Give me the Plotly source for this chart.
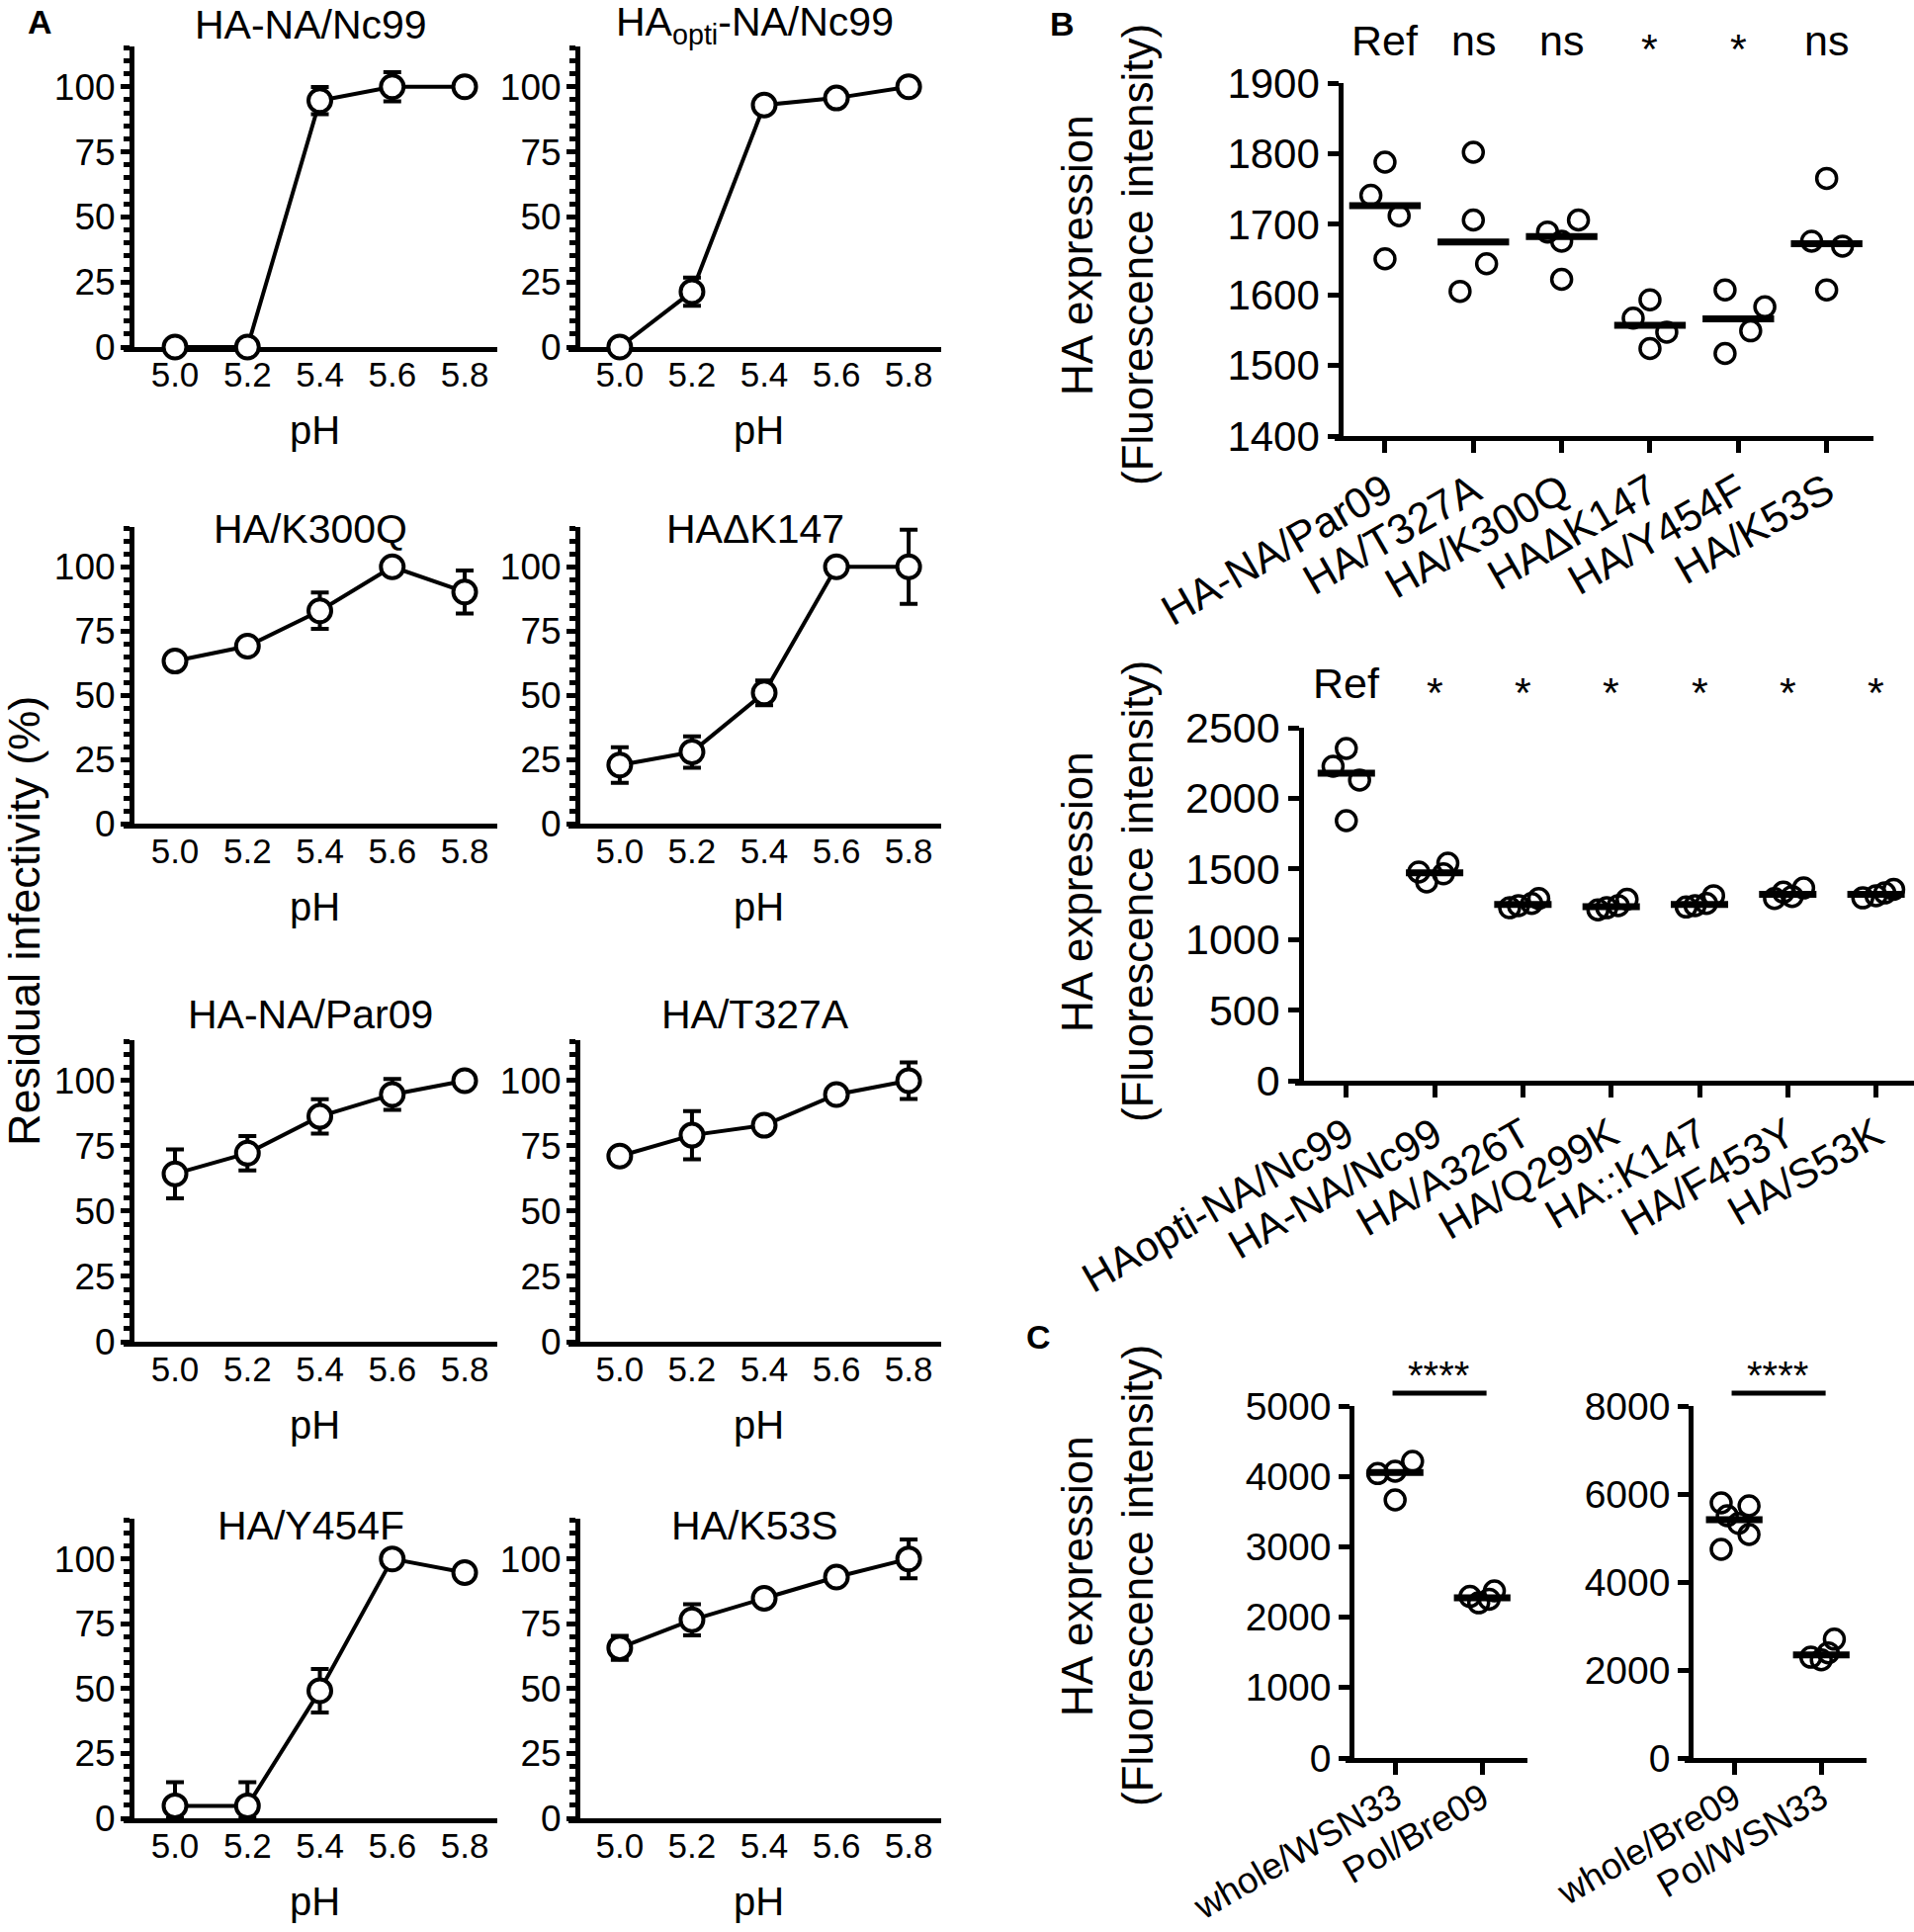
import statistics
import plotly.graph_objects as go

W, H = 1936, 1954
FONT = "Liberation Sans, Arial, sans-serif"

# ---------------- panel A: residual infectivity (%) vs pH ----------------
PH = [5.0, 5.2, 5.4, 5.6, 5.8]
PH_LABELS = ["5.0", "5.2", "5.4", "5.6", "5.8"]

nc99 = [0, 0, 94.7, 100, 100]
nc99_sd = [0, 0, 5.2, 5.6, 0]
opti_nc99 = [0, 21.3, 93.0, 95.7, 100]
opti_nc99_sd = [0, 5.4, 0, 0, 0]
k300q = [63.3, 69.1, 82.9, 100, 90.2]
k300q_sd = [0, 0, 7.1, 0, 8.4]
dk147 = [22.8, 27.9, 50.9, 100, 100]
dk147_sd = [6.9, 6.1, 4.8, 0, 14.4]
par09 = [64.3, 72.2, 86.3, 94.7, 100]
par09_sd = [9.4, 6.6, 6.6, 5.9, 0]
t327a = [71.1, 79.1, 82.9, 94.7, 100]
t327a_sd = [0, 9.2, 0, 0, 7.0]
y454f = [4.8, 4.8, 49.2, 100, 94.7]
y454f_sd = [9.1, 9.1, 8.4, 0, 0]
k53s = [65.7, 76.5, 84.8, 93.0, 100]
k53s_sd = [4.6, 6.0, 0, 0, 7.5]

A_TITLES = ["HA-NA/Nc99", "HA<sub>opti</sub>-NA/Nc99", "HA/K300Q", "HAΔK147",
            "HA-NA/Par09", "HA/T327A", "HA/Y454F", "HA/K53S"]
A_MEANS = [nc99, opti_nc99, k300q, dk147, par09, t327a, y454f, k53s]
A_SDS = [nc99_sd, opti_nc99_sd, k300q_sd, dk147_sd, par09_sd, t327a_sd, y454f_sd, k53s_sd]

# ---------------- panel B: HA expression ----------------
B1_NAMES = ["HA-NA/Par09", "HA/T327A", "HA/K300Q", "HAΔK147", "HA/Y454F", "HA/K53S"]
B1_SIG = ["Ref", "ns", "ns", "*", "*", "ns"]
B1_VALUES = [[1788, 1741, 1712, 1651], [1802, 1706, 1644, 1605],
             [1706, 1689, 1676, 1622], [1593, 1567, 1547, 1524],
             [1607, 1583, 1549, 1517], [1765, 1676, 1669, 1607]]

B2_NAMES = ["HAopti-NA/Nc99", "HA-NA/Nc99", "HA/A326T", "HA/Q299K",
            "HA::K147", "HA/F453Y", "HA/S53K"]
B2_SIG = ["Ref", "*", "*", "*", "*", "*", "*"]
B2_VALUES = [[2353, 2227, 2129, 1842], [1540, 1478, 1465, 1408],
             [1290, 1255, 1240, 1225], [1285, 1240, 1225, 1210],
             [1310, 1255, 1240, 1230], [1365, 1335, 1305, 1290],
             [1355, 1330, 1310, 1295]]

# ---------------- panel C ----------------
C1_NAMES = ["whole/WSN33", "Pol/Bre09"]
C1_VALUES = [[4213, 4073, 4040, 3666], [2374, 2295, 2255, 2204]]
C2_NAMES = ["whole/Bre09", "Pol/WSN33"]
C2_VALUES = [[5798, 5730, 5506, 5330, 5079, 4742], [2700, 2390, 2290, 2230]]
C_SIG = "****"

# horizontal scatter of the dots inside each group (layout only)
B1_JIT = [[0, -0.16, 0.16, 0], [0, 0, 0.15, -0.15], [0.19, -0.16, 0, 0],
          [0, -0.19, 0.19, 0], [-0.15, 0.3, 0.14, -0.15], [0, -0.17, 0.18, 0]]
B2_JIT = [[0, -0.15, 0.15, 0], [0.15, -0.18, 0.1, -0.09], [0.18, 0.1, -0.05, -0.15],
          [0.18, 0.08, -0.05, -0.15], [0.16, 0.08, -0.05, -0.15],
          [0.18, -0.05, 0.05, -0.15], [0.2, 0.1, 0, -0.15]]
C1_JIT = [[0.2, 0, -0.2, 0], [0.14, -0.14, 0.08, -0.04]]
C2_JIT = [[-0.15, 0.17, -0.08, 0.05, 0.17, -0.15], [0.15, 0.08, -0.12, 0]]


def fx(x):
    return x / W


def fy(y):
    return 1 - y / H


def label(text, x, y, size=41, angle=0, **kw):
    d = dict(text=text, x=x, y=y, xref="paper", yref="paper", showarrow=False,
             xanchor="center", yanchor="middle", textangle=angle,
             font=dict(family=FONT, size=size, color="black"))
    d.update(kw)
    return d


fig = go.Figure()
layout = {}
annotations = []
shapes = []

# ----- panel A -----
A_COLS = [(125, 503, 133), (575, 952, 584)]          # x-axis start, end, y-axis line (px)
A_ROWS = [(47, 351, 25), (533, 833, 535), (1052, 1357, 1026), (1536, 1839, 1543)]  # top, zero, title

for i, (title, mean, sd) in enumerate(zip(A_TITLES, A_MEANS, A_SDS)):
    n = i + 1
    r, c = divmod(i, 2)
    x0, x1, yline = A_COLS[c]
    top, zero, ty = A_ROWS[r]
    layout[f"xaxis{n}"] = dict(
        domain=[fx(x0), fx(x1)], range=[4.858, 5.890], anchor=f"y{n}", automargin=False,
        showline=True, linewidth=5, linecolor="black", ticks="",
        tickvals=PH, ticktext=PH_LABELS, showgrid=False, zeroline=False,
        tickfont=dict(family=FONT, size=35, color="black"),
        ticklabelstandoff=-7, layer="below traces")
    layout[f"yaxis{n}"] = dict(
        domain=[fy(zero), fy(top)], range=[0, 115.5], anchor="free", position=fx(yline),
        automargin=False, showline=True, linewidth=5, linecolor="black", ticks="outside",
        ticklen=9, tickwidth=5, tickcolor="black", tick0=0, dtick=25,
        minor=dict(dtick=5, tick0=0, ticks="outside", ticklen=6, tickwidth=5, tickcolor="black"),
        showgrid=False, zeroline=False, ticklabelstandoff=-2,
        tickfont=dict(family=FONT, size=37, color="black"), layer="below traces")
    fig.add_trace(go.Scatter(
        x=PH, y=mean, xaxis=f"x{n}", yaxis=f"y{n}", mode="lines+markers",
        line=dict(color="black", width=4), cliponaxis=False,
        marker=dict(symbol="circle", size=23, color="white", line=dict(color="black", width=4)),
        error_y=dict(type="data", array=sd, arrayminus=[min(s, m) for s, m in zip(sd, mean)],
                     color="black", thickness=4, width=9),
        showlegend=False))
    annotations.append(label(title, fx((x0 + x1) / 2), fy(ty)))
    annotations.append(label("pH", fx((x0 + x1) / 2 + 4), fy(zero + 84), size=40))

annotations.append(label("Residual infectivity (%)", fx(24), fy(932), size=45, angle=-90))


# ----- dot plots (B, C) -----
def dot_panel(n, names, values, jit, xdom, yline, ydom, yrange, dtick, xrange, medw,
              tsize, csize, cstand):
    layout[f"xaxis{n}"] = dict(
        domain=[fx(xdom[0]), fx(xdom[1])], range=xrange, anchor=f"y{n}", automargin=False,
        showline=True, linewidth=4.5, linecolor="black", ticks="outside",
        ticklen=12, tickwidth=4.5, tickcolor="black",
        tickvals=list(range(len(names))), ticktext=names,
        tickangle=-30, showgrid=False, zeroline=False, ticklabelstandoff=cstand,
        tickfont=dict(family=FONT, size=csize, color="black"))
    layout[f"yaxis{n}"] = dict(
        domain=[fy(ydom[1]), fy(ydom[0])], range=yrange, anchor="free", position=fx(yline),
        automargin=False, showline=True, linewidth=4.5, linecolor="black", ticks="outside",
        ticklen=11, tickwidth=4.5, tickcolor="black", tick0=yrange[0], dtick=dtick,
        showgrid=False, zeroline=False, ticklabelstandoff=0,
        tickfont=dict(family=FONT, size=tsize, color="black"))
    xs, ys = [], []
    for g, (vals, js) in enumerate(zip(values, jit)):
        xs += [g + j for j in js]
        ys += vals
    fig.add_trace(go.Scatter(
        x=xs, y=ys, xaxis=f"x{n}", yaxis=f"y{n}", mode="markers", cliponaxis=False,
        marker=dict(symbol="circle-open", size=20, color="black", line=dict(width=3.5)),
        showlegend=False))
    for g, vals in enumerate(values):
        m = statistics.median(vals)
        fig.add_trace(go.Scatter(
            x=[g - medw / 2, g + medw / 2], y=[m, m], xaxis=f"x{n}", yaxis=f"y{n}",
            mode="lines", line=dict(color="black", width=7), showlegend=False))


dot_panel(9, B1_NAMES, B1_VALUES, B1_JIT, (1350, 1895), 1356, (84, 441),
          [1400, 1900], 100, [-0.57, 5.53], 0.81, 42, 43, -3)
dot_panel(10, B2_NAMES, B2_VALUES, B2_JIT, (1310, 1936), 1316, (736, 1093),
          [0, 2500], 500, [-0.58, 6.43], 0.65, 43, 42, -3)
dot_panel(11, C1_NAMES, C1_VALUES, C1_JIT, (1361, 1545), 1367, (1422, 1778),
          [0, 5000], 1000, [-0.57, 1.52], 0.65, 39, 37, -12)
dot_panel(12, C2_NAMES, C2_VALUES, C2_JIT, (1704, 1888), 1710, (1422, 1778),
          [0, 8000], 2000, [-0.57, 1.52], 0.65, 39, 37, -12)

for g, s in enumerate(B1_SIG):
    annotations.append(label(s, g, fy(41 if s != "*" else 49), size=43, xref="x9"))
for g, s in enumerate(B2_SIG):
    annotations.append(label(s, g, fy(691 if s != "*" else 700), size=43, xref="x10"))
for n in (11, 12):
    shapes.append(dict(type="line", xref=f"x{n}", yref="paper", x0=-0.03, x1=1.05,
                       y0=fy(1409), y1=fy(1409), line=dict(color="black", width=5)))
    annotations.append(label(C_SIG, 0.5, fy(1391), size=40, xref=f"x{n}"))

# y-axis titles of B and C (two lines)
for yc in (258, 902, 1594):
    annotations.append(label("HA expression", fx(1089), fy(yc), size=44, angle=-90))
    annotations.append(label("(Fluorescence intensity)", fx(1150), fy(yc), size=44, angle=-90))

# panel letters
for letter, x, y in (("A", 40, 22), ("B", 1074, 24), ("C", 1050, 1352)):
    annotations.append(label(f"<b>{letter}</b>", fx(x), fy(y), size=34))

fig.update_layout(**layout)
fig.update_layout(template="none", width=W, height=H,
                  margin=dict(l=0, r=0, t=0, b=0, autoexpand=False),
                  paper_bgcolor="white", plot_bgcolor="white",
                  annotations=annotations, shapes=shapes,
                  font=dict(family=FONT, color="black"))

fig.write_html("out.html", config={"displayModeBar": False},
               post_script="document.body.style.margin='0';")
